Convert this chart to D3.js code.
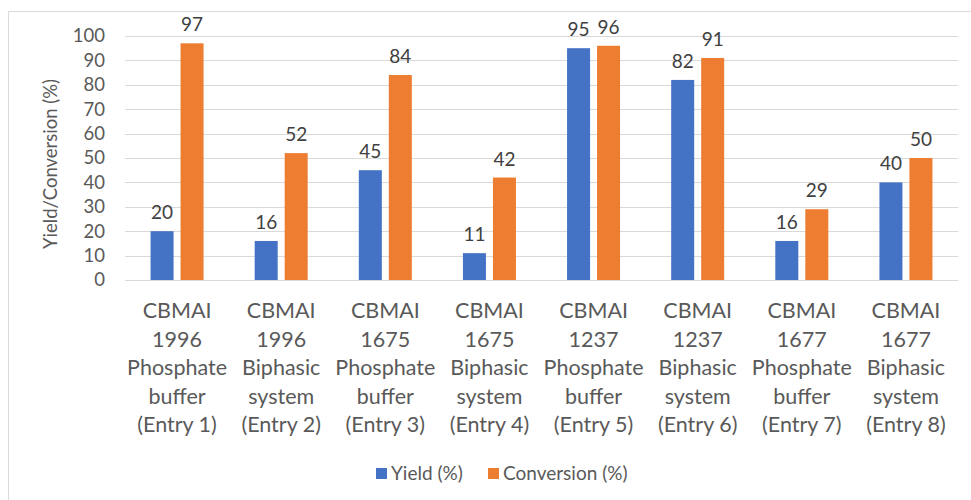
<!DOCTYPE html>
<html>
<head>
<meta charset="utf-8">
<script src="https://cdn.jsdelivr.net/npm/d3@7"></script>
<style>
  html, body { margin: 0; padding: 0; background: #fff; }
  svg { display: block; }
</style>
</head>
<body>
<svg id="chart" width="971" height="500"></svg>
<script>
// Entries: strain, medium and entry number, one label line per element
const categories = [
  ["CBMAI", "1996", "Phosphate", "buffer", "(Entry 1)"],
  ["CBMAI", "1996", "Biphasic", "system", "(Entry 2)"],
  ["CBMAI", "1675", "Phosphate", "buffer", "(Entry 3)"],
  ["CBMAI", "1675", "Biphasic", "system", "(Entry 4)"],
  ["CBMAI", "1237", "Phosphate", "buffer", "(Entry 5)"],
  ["CBMAI", "1237", "Biphasic", "system", "(Entry 6)"],
  ["CBMAI", "1677", "Phosphate", "buffer", "(Entry 7)"],
  ["CBMAI", "1677", "Biphasic", "system", "(Entry 8)"]
];
const yieldValues = [20, 16, 45, 11, 95, 82, 16, 40];
const conversionValues = [97, 52, 84, 42, 96, 91, 29, 50];
const seriesNames = ["Yield (%)", "Conversion (%)"];
const yTicks = [0, 10, 20, 30, 40, 50, 60, 70, 80, 90, 100];
const yTitle = "Yield/Conversion (%)";

const colors = ["#4472C4", "#ED7D31"];
const textColor = "#595959";
const font = "Lato, 'Open Sans', sans-serif";

const svg = d3.select("#chart");

// chart area border
svg.append("rect")
  .attr("x", 8.5).attr("y", 11.5)
  .attr("width", 1000).attr("height", 1000)
  .attr("fill", "none").attr("stroke", "#d9d9d9");

const plot = { left: 125, right: 958, top: 36, bottom: 280 };

const x = d3.scaleBand()
  .domain(d3.range(categories.length))
  .range([plot.left, plot.right])
  .paddingInner(0)
  .paddingOuter(0);

const y = d3.scaleLinear().domain([0, 100]).range([plot.bottom, plot.top]);

// gridlines
svg.append("g")
  .selectAll("line")
  .data(yTicks)
  .join("line")
  .attr("x1", plot.left).attr("x2", plot.right)
  .attr("y1", d => Math.round(y(d)) + 0.5)
  .attr("y2", d => Math.round(y(d)) + 0.5)
  .attr("stroke", "#d9d9d9").attr("stroke-width", 1);

// y axis tick labels
const yAxis = d3.axisLeft(y).tickValues(yTicks).tickSize(0).tickPadding(0);
const yg = svg.append("g")
  .attr("transform", `translate(${105},0)`)
  .call(yAxis);
yg.select(".domain").remove();
yg.selectAll("text")
  .attr("fill", textColor)
  .style("font-family", font)
  .style("font-size", "18.5px");

// y axis title
svg.append("text")
  .attr("transform", `translate(57,${(plot.top + plot.bottom) / 2 + 6}) rotate(-90)`)
  .attr("text-anchor", "middle")
  .attr("fill", textColor)
  .style("font-family", font)
  .style("font-size", "18.5px")
  .text(yTitle);

// bars
const barW = 23, gap = 7;
const series = [yieldValues, conversionValues];
series.forEach((vals, si) => {
  const offset = si === 0 ? -(gap / 2 + barW) : gap / 2;
  const g = svg.append("g");
  g.selectAll("rect")
    .data(vals)
    .join("rect")
    .attr("x", (d, i) => x(i) + x.bandwidth() / 2 + offset)
    .attr("y", d => y(d))
    .attr("width", barW)
    .attr("height", d => y(0) - y(d))
    .attr("fill", colors[si]);
  g.selectAll("text")
    .data(vals)
    .join("text")
    .attr("x", (d, i) => x(i) + x.bandwidth() / 2 + offset + barW / 2)
    .attr("y", d => y(d) - 12)
    .attr("text-anchor", "middle")
    .attr("fill", "#404040")
    .style("font-family", font)
    .style("font-size", "19px")
    .text(d => d);
});

// category labels
const catG = svg.append("g");
categories.forEach((lines, i) => {
  const t = catG.append("text")
    .attr("x", x(i) + x.bandwidth() / 2)
    .attr("y", 317)
    .attr("text-anchor", "middle")
    .attr("fill", textColor)
    .style("font-family", font)
    .style("font-size", "21.5px");
  lines.forEach((ln, j) => {
    t.append("tspan")
      .attr("x", x(i) + x.bandwidth() / 2)
      .attr("y", 318 + j * 28.5)
      .text(ln);
  });
});

// legend
const legendItems = [
  { name: seriesNames[0], color: colors[0], x: 376 },
  { name: seriesNames[1], color: colors[1], x: 488 }
];
const lg = svg.append("g");
legendItems.forEach(it => {
  lg.append("rect")
    .attr("x", it.x).attr("y", 468)
    .attr("width", 11).attr("height", 11)
    .attr("fill", it.color);
  lg.append("text")
    .attr("x", it.x + 15).attr("y", 480)
    .attr("fill", textColor)
    .style("font-family", font)
    .style("font-size", "19px")
    .text(it.name);
});
</script>
</body>
</html>
